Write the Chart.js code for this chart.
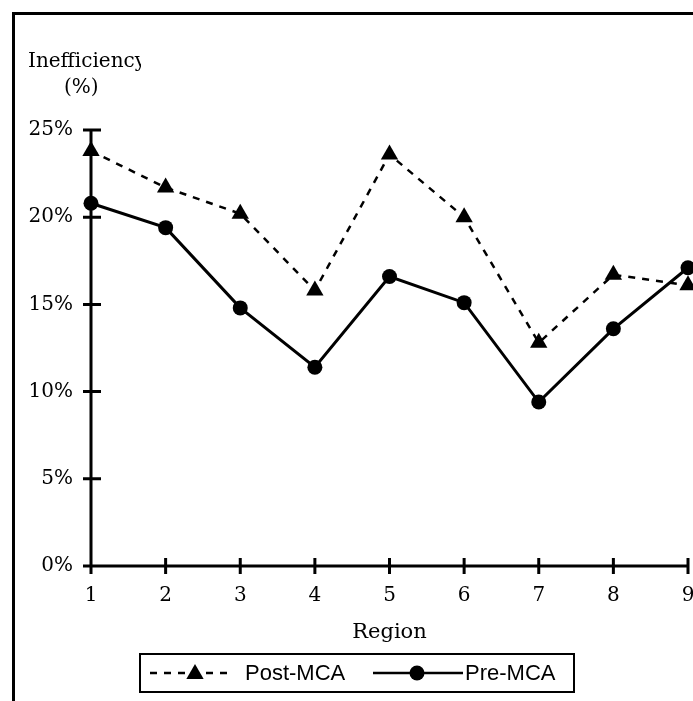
<!DOCTYPE html>
<html lang="en">
<head>
<meta charset="UTF-8">
<script src="https://cdn.jsdelivr.net/npm/chart.js"></script>
<title>Inefficiency by region</title>
<style>
  body { margin: 0; background: #fff; }
  canvas { display: block; }
</style>
</head>
<body>
<canvas id="ineffChart" width="693" height="701"></canvas>
<script>
// inefficiency (%) per region, before and after MCA
const regions = ['1', '2', '3', '4', '5', '6', '7', '8', '9']
const postMCA = [23.8, 21.7, 20.2, 15.8, 23.6, 20.0, 12.8, 16.7, 16.1]
const preMCA = [20.8, 19.4, 14.8, 11.4, 16.6, 15.1, 9.4, 13.6, 17.1]
const yTicks = [0, 5, 10, 15, 20, 25]

const serif = 'DejaVu Serif'
const sans = 'Liberation Sans'

// white page with the outer frame (top and left edges)
const framePlugin = {
  id: 'frame',
  beforeDraw(chart) {
    const ctx = chart.ctx
    ctx.save()
    ctx.fillStyle = '#fff'
    ctx.fillRect(0, 0, chart.width, chart.height)
    ctx.strokeStyle = '#000'
    ctx.lineWidth = 3
    ctx.beginPath()
    ctx.moveTo(13.5, chart.height)
    ctx.lineTo(13.5, 13.5)
    ctx.lineTo(chart.width, 13.5)
    ctx.stroke()
    ctx.restore()
  }
}

// axis lines with tick marks crossing them
const axesPlugin = {
  id: 'axes',
  beforeDatasetsDraw(chart) {
    const ctx = chart.ctx
    const x = chart.scales.x
    const y = chart.scales.y
    const x0 = x.getPixelForValue(0)
    const y0 = y.getPixelForValue(yTicks[0])
    ctx.save()
    ctx.strokeStyle = '#000'
    ctx.lineWidth = 3
    ctx.beginPath()
    ctx.moveTo(x0, y.getPixelForValue(yTicks[yTicks.length - 1]))
    ctx.lineTo(x0, y0)
    ctx.moveTo(x0 - 8, y0)
    ctx.lineTo(x.getPixelForValue(regions.length - 1), y0)
    yTicks.forEach(v => {
      const py = y.getPixelForValue(v)
      ctx.moveTo(x0 - 8, py)
      ctx.lineTo(x0 + 10, py)
    })
    regions.forEach((r, i) => {
      const px = x.getPixelForValue(i)
      ctx.moveTo(px, y0 - 8)
      ctx.lineTo(px, y0 + 8)
    })
    ctx.stroke()
    ctx.restore()
  }
}

function marker(ctx, style, cx, cy, r) {
  ctx.beginPath()
  if (style === 'triangle') {
    ctx.moveTo(cx, cy - r)
    ctx.lineTo(cx + r * Math.sin(Math.PI / 3), cy + r / 2)
    ctx.lineTo(cx - r * Math.sin(Math.PI / 3), cy + r / 2)
    ctx.closePath()
  } else {
    ctx.arc(cx, cy, r, 0, Math.PI * 2)
  }
  ctx.fill()
}

// y title above the axis and the boxed legend at the bottom
const labelsPlugin = {
  id: 'labels',
  afterDraw(chart) {
    const ctx = chart.ctx
    ctx.save()
    ctx.fillStyle = '#000'
    ctx.font = '20px "' + serif + '"'
    ctx.textBaseline = 'alphabetic'
    // the title box is narrower than the word, so its last letter gets cut
    ctx.save()
    ctx.beginPath()
    ctx.rect(0, 0, 141, 120)
    ctx.clip()
    ctx.fillText('Inefficiency', 28, 67)
    ctx.restore()
    ctx.fillText('(%)', 64, 93)

    const box = { x: 140, y: 654, w: 434, h: 38 }
    const my = box.y + box.h / 2
    ctx.strokeStyle = '#000'
    ctx.lineWidth = 2
    ctx.strokeRect(box.x, box.y, box.w, box.h)

    const items = [
      { ds: chart.data.datasets[0], x1: 150, x2: 232, mx: 195, tx: 245 },
      { ds: chart.data.datasets[1], x1: 373, x2: 463, mx: 417, tx: 465 }
    ]
    ctx.font = '22px "' + sans + '"'
    ctx.textBaseline = 'middle'
    items.forEach(it => {
      ctx.lineWidth = 2.5
      ctx.setLineDash(it.ds.borderDash || [])
      ctx.beginPath()
      ctx.moveTo(it.x1, my)
      ctx.lineTo(it.x2, my)
      ctx.stroke()
      ctx.setLineDash([])
      marker(ctx, it.ds.pointStyle, it.mx, my + (it.ds.pointStyle === 'triangle' ? 1 : 0), it.ds.pointRadius)
      ctx.fillText(it.ds.label, it.tx, my + 1)
    })
    ctx.restore()
  }
}

const chart = new Chart(document.getElementById('ineffChart'), {
  type: 'line',
  data: {
    labels: regions,
    datasets: [
      {
        label: 'Post-MCA',
        data: postMCA,
        borderColor: '#000',
        borderWidth: 2.5,
        borderDash: [7, 7],
        pointStyle: 'triangle',
        pointRadius: 10,
        pointBorderWidth: 0,
        pointBackgroundColor: '#000',
        clip: false
      },
      {
        label: 'Pre-MCA',
        data: preMCA,
        borderColor: '#000',
        borderWidth: 3,
        pointStyle: 'circle',
        pointRadius: 7.5,
        pointBorderWidth: 0,
        pointBackgroundColor: '#000',
        clip: false
      }
    ]
  },
  options: {
    responsive: false,
    animation: false,
    devicePixelRatio: 1,
    // markers on the last region are allowed to run off the right edge
    layout: { autoPadding: false, padding: { left: 0, right: 5, top: 130, bottom: 0 } },
    plugins: {
      legend: { display: false },
      tooltip: { enabled: false }
    },
    scales: {
      x: {
        // tick marks come from the axes plugin; tickLength only offsets the labels
        // (negative padding keeps the "9" from pulling the plot in from the right)
        grid: { display: false, drawTicks: true, tickLength: 23 },
        border: { display: false },
        ticks: {
          color: '#000',
          padding: -5,
          maxRotation: 0,
          font: { family: serif, size: 20 }
        },
        title: {
          display: true,
          text: 'Region',
          color: '#000',
          font: { family: serif, size: 21 },
          padding: { top: 0, bottom: 56 }
        },
        afterFit: s => { s.height = 135 }
      },
      y: {
        min: yTicks[0],
        max: yTicks[yTicks.length - 1],
        grid: { display: false, drawTicks: false },
        border: { display: false },
        afterBuildTicks: s => { s.ticks = yTicks.map(v => ({ value: v })) },
        ticks: {
          color: '#000',
          padding: 18,
          font: { family: serif, size: 20 },
          callback: v => v + '%'
        },
        afterFit: s => { s.width = 91 }
      }
    }
  },
  plugins: [framePlugin, axesPlugin, labelsPlugin]
})
</script>
</body>
</html>
